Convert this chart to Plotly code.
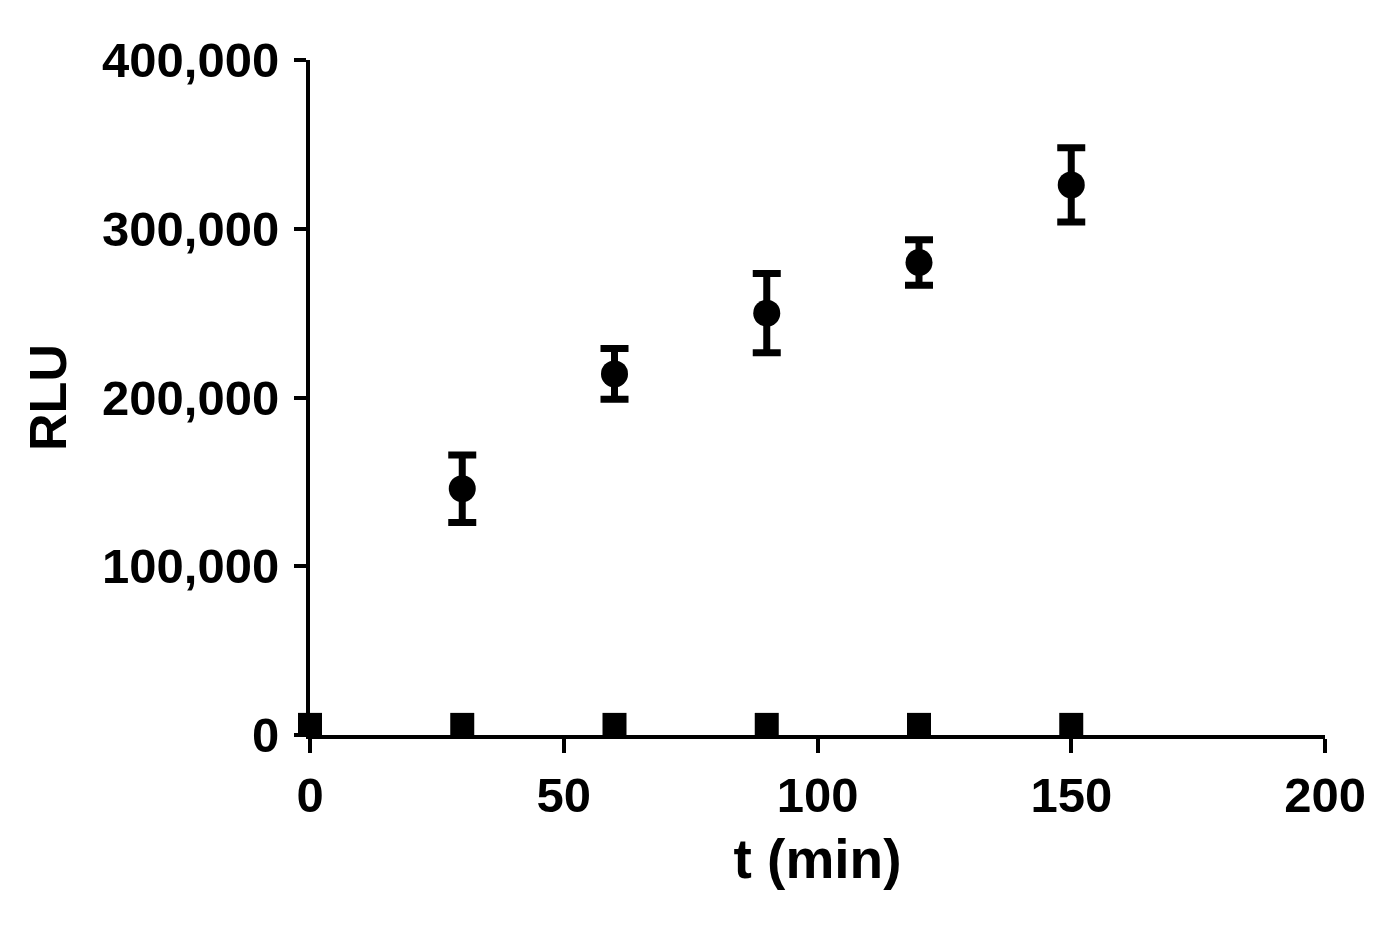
import plotly.graph_objects as go

t_circle = [30, 60, 90, 120, 150]
rlu_circle = [146000, 214000, 250000, 280000, 326000]
err_circle = [20000, 15000, 23500, 13500, 22000]

t_square = [0, 30, 60, 90, 120, 150]
rlu_square = [6000, 6000, 6000, 6000, 6000, 6000]

x_ticks = [0, 50, 100, 150, 200]
y_ticks = [0, 100000, 200000, 300000, 400000]

fig = go.Figure()
fig.add_trace(go.Scatter(
    x=t_circle, y=rlu_circle, mode="markers",
    marker=dict(symbol="circle", size=27, color="black"),
    error_y=dict(type="data", array=err_circle, color="black", thickness=7, width=14),
    cliponaxis=False, showlegend=False))
fig.add_trace(go.Scatter(
    x=t_square, y=rlu_square, mode="markers",
    marker=dict(symbol="square", size=24, color="black"),
    cliponaxis=False, showlegend=False))

font_family = "Liberation Sans, Arial, sans-serif"
fig.update_layout(
    width=1390, height=939,
    margin=dict(l=302, r=73, t=52, b=212),
    plot_bgcolor="white", paper_bgcolor="white",
    font=dict(family=font_family, color="black"),
    xaxis=dict(range=[0, 200], tickvals=x_ticks, showgrid=False, zeroline=False,
               showline=True, linecolor="black", linewidth=4,
               ticks="outside", ticklen=14, tickwidth=4, tickcolor="black",
               tickfont=dict(size=49, family=font_family, weight="bold"),
               title=dict(text="<b>t (min)</b>", font=dict(size=55), standoff=20)),
    yaxis=dict(range=[0, 400000], tickvals=y_ticks, tickformat=",d", showgrid=False, zeroline=False,
               showline=True, linecolor="black", linewidth=4,
               ticks="outside", ticklen=12, tickwidth=4, tickcolor="black",
               ticklabelstandoff=5,
               tickfont=dict(size=49, family=font_family, weight="bold"),
               title=dict(text="<b>RLU</b>", font=dict(size=52), standoff=20)),
)
fig.write_html("out.html")
